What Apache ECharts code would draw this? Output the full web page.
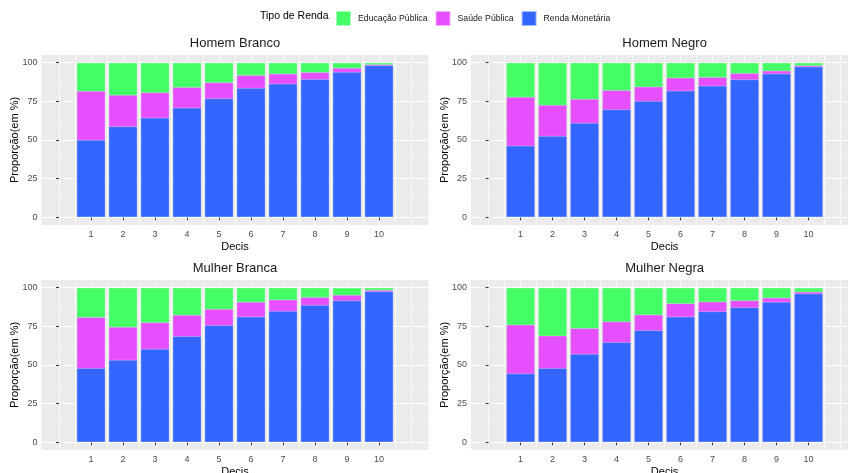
<!DOCTYPE html>
<html><head><meta charset="utf-8">
<script src="https://cdn.jsdelivr.net/npm/echarts@6/dist/echarts.min.js"></script>
<style>html,body{margin:0;padding:0;background:#fff}#c{width:848px;height:473px}</style>
</head><body><div id="c"></div><script>
// ---- data ----
const decis = [1, 2, 3, 4, 5, 6, 7, 8, 9, 10];
const panelTitles = ['Homem Branco', 'Homem Negro', 'Mulher Branca', 'Mulher Negra'];
const seriesNames = ['Educação Pública', 'Saúde Pública', 'Renda Monetária'];
const yTickValues = [0, 25, 50, 75, 100];
const yMinorValues = [12.5, 37.5, 62.5, 87.5];
const xGridValues = [0, 0.5, 1, 1.5, 2, 2.5, 3, 3.5, 4, 4.5, 5, 5.5, 6, 6.5, 7, 7.5, 8, 8.5, 9, 9.5, 10, 10.5, 11];

const rendaHomemBranco = [50.0, 58.8, 64.4, 70.9, 76.9, 83.6, 86.4, 89.4, 94.0, 98.3];
const saudeHomemBranco = [31.7, 20.3, 16.4, 13.2, 10.4, 8.4, 6.5, 4.4, 2.6, 0.6];
const educHomemBranco  = [18.3, 20.9, 19.2, 15.9, 12.7, 8.0, 7.1, 6.2, 3.4, 1.1];

const rendaHomemNegro = [46.3, 52.6, 61.0, 69.8, 75.2, 81.9, 85.1, 89.2, 92.9, 97.4];
const saudeHomemNegro = [31.5, 20.0, 15.5, 12.5, 9.3, 8.4, 5.6, 4.1, 1.9, 0.9];
const educHomemNegro  = [22.2, 27.4, 23.5, 17.7, 15.5, 9.7, 9.3, 6.7, 5.2, 1.7];

const rendaMulherBranca = [48.0, 53.3, 60.4, 68.6, 75.7, 81.3, 84.9, 88.8, 91.8, 97.6];
const saudeMulherBranca = [32.9, 21.3, 17.2, 13.8, 10.5, 9.5, 7.4, 5.0, 3.5, 0.9];
const educMulherBranca  = [19.1, 25.4, 22.4, 17.6, 13.8, 9.2, 7.7, 6.2, 4.7, 1.5];

const rendaMulherNegra = [44.5, 48.0, 57.2, 64.7, 72.5, 81.3, 84.7, 87.3, 90.8, 96.3];
const saudeMulherNegra = [31.6, 21.0, 16.6, 13.4, 10.1, 8.6, 6.3, 4.5, 2.7, 1.1];
const educMulherNegra  = [23.9, 31.0, 26.2, 21.9, 17.4, 10.1, 9.0, 8.2, 6.5, 2.6];

const panels = [
  {renda: rendaHomemBranco, saude: saudeHomemBranco, educ: educHomemBranco},
  {renda: rendaHomemNegro, saude: saudeHomemNegro, educ: educHomemNegro},
  {renda: rendaMulherBranca, saude: saudeMulherBranca, educ: educMulherBranca},
  {renda: rendaMulherNegra, saude: saudeMulherNegra, educ: educMulherNegra}
];

// ---- styling / layout ----
const FONT = 'Liberation Sans, Arial, sans-serif';
const colors = {educ: '#44FF66', saude: '#E64FFF', renda: '#3366FF'};
const gridPos = [
  {left: 41.4, top: 55},
  {left: 471, top: 55},
  {left: 41.4, top: 280},
  {left: 471, top: 280}
];
const PW = 387.2, PH = 170;

const grids = [], xAxes = [], yAxes = [], series = [], titles = [];
gridPos.forEach((g, i) => {
  grids.push({left: g.left, top: g.top, width: PW, height: PH, show: true,
    backgroundColor: '#EBEBEB', borderWidth: 0, outerBoundsMode: 'none', containLabel: false});
  titles.push({text: panelTitles[i], left: g.left + PW / 2, top: g.top - 18, textAlign: 'center', padding: 0,
    textStyle: {fontFamily: FONT, fontSize: 13, fontWeight: 'normal', color: '#1a1a1a'}});
  // main x axis
  xAxes.push({type: 'value', gridIndex: i, min: -0.55, max: 11.55, position: 'bottom',
    name: 'Decis', nameLocation: 'middle', nameGap: 16, nameMoveOverlap: false,
    nameTextStyle: {fontFamily: FONT, fontSize: 11, color: '#000'},
    axisLine: {show: false},
    axisTick: {show: true, length: 3, customValues: decis, lineStyle: {color: '#333', width: 1}},
    axisLabel: {customValues: decis, fontFamily: FONT, fontSize: 9, color: '#4D4D4D', margin: 5},
    splitLine: {show: false}});
  // helper x axis for vertical grid lines
  xAxes.push({type: 'value', gridIndex: i, min: -0.55, max: 11.55, position: 'bottom',
    axisLine: {show: false}, axisTick: {show: false, customValues: xGridValues},
    axisLabel: {show: false},
    splitLine: {show: true, lineStyle: {color: '#FFFFFF', width: 0.8}}});
  // main y axis
  yAxes.push({type: 'value', gridIndex: i, min: -5, max: 105,
    name: 'Proporção(em %)', nameLocation: 'middle', nameGap: 21, nameRotate: 90, nameMoveOverlap: false,
    nameTextStyle: {fontFamily: FONT, fontSize: 11, color: '#000'},
    axisLine: {show: false},
    axisTick: {show: true, length: 3, customValues: yTickValues, lineStyle: {color: '#333', width: 1}},
    axisLabel: {customValues: yTickValues, fontFamily: FONT, fontSize: 9, color: '#4D4D4D', margin: 4},
    splitLine: {show: true, lineStyle: {color: '#FFFFFF', width: 1.1}}});
  // helper y axis for minor grid lines
  yAxes.push({type: 'value', gridIndex: i, min: -5, max: 105,
    axisLine: {show: false}, axisTick: {show: false, customValues: yMinorValues},
    axisLabel: {show: false},
    splitLine: {show: true, lineStyle: {color: '#F7F7F7', width: 0.6}}});

  // stacked shares: draw cumulative tops, overlapping, topmost category first
  const p = panels[i];
  const topSaude = p.renda.map((v, k) => v + p.saude[k]);
  const topEduc = topSaude.map((v, k) => v + p.educ[k]);
  const mk = (name, arr, color) => ({
    name: name, type: 'bar', xAxisIndex: 2 * i, yAxisIndex: 2 * i,
    barWidth: '90%', barGap: '-100%', data: decis.map((d, k) => [d, arr[k]]),
    itemStyle: {color: color, borderColor: 'rgba(255,255,255,0.55)', borderWidth: 0.6},
    emphasis: {disabled: true}, animation: false
  });
  series.push(mk(seriesNames[0], topEduc, colors.educ));
  series.push(mk(seriesNames[1], topSaude, colors.saude));
  series.push(mk(seriesNames[2], p.renda, colors.renda));
});

titles.push({text: 'Tipo de Renda', left: 260, top: 11, padding: 0,
  textStyle: {fontFamily: FONT, fontSize: 10.5, fontWeight: 'normal', color: '#000'}});

const option = {
  animation: false,
  backgroundColor: '#FFFFFF',
  title: titles,
  legend: {
    data: seriesNames, left: 335, top: 10, orient: 'horizontal', padding: 0,
    icon: 'rect', itemWidth: 15, itemHeight: 15, itemGap: 7,
    textStyle: {fontFamily: FONT, fontSize: 8.7, color: '#1a1a1a', padding: [0, 0, 0, 2]},
    selectedMode: false
  },
  grid: grids, xAxis: xAxes, yAxis: yAxes, series: series
};
const chart = echarts.init(document.getElementById('c'), null, {renderer: 'canvas'});
chart.setOption(option);
</script></body></html>
